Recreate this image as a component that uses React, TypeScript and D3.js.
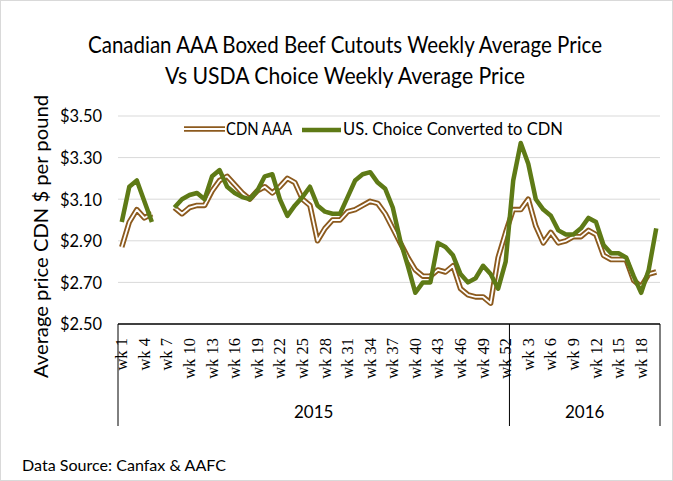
import React from "react";
import * as d3 from "d3";

const W = 673;
const H = 481;

const years = ["2015", "2016"];
const weeksPerYear = [52, 20];
const yTicks = [2.5, 2.7, 2.9, 3.1, 3.3, 3.5];

const cdnAAA: (number | null)[] = [
  2.87, 2.99, 3.05, 3.01, 3.03, null, null, 3.06, 3.03, 3.06,
  3.07, 3.07, 3.14, 3.19, 3.21, 3.17, 3.13, 3.10, 3.14, 3.16,
  3.13, 3.16, 3.20, 3.18, 3.10, 3.07, 2.90, 2.96, 3.00, 3.00,
  3.04, 3.05, 3.07, 3.09, 3.08, 3.03, 2.96, 2.89, 2.82, 2.76,
  2.73, 2.73, 2.76, 2.75, 2.78, 2.67, 2.64, 2.63, 2.63, 2.60,
  2.82, 2.94,
  3.05, 3.05, 3.10, 2.97, 2.89, 2.94, 2.89, 2.90, 2.92, 2.92,
  2.95, 2.93, 2.83, 2.81, 2.81, 2.81, 2.71, 2.68, 2.74, 2.75,
];

const usChoice: (number | null)[] = [
  2.99, 3.16, 3.19, 3.09, 2.99, null, null, 3.06, 3.10, 3.12,
  3.13, 3.10, 3.21, 3.24, 3.16, 3.13, 3.11, 3.10, 3.14, 3.21,
  3.22, 3.10, 3.02, 3.07, 3.11, 3.16, 3.07, 3.04, 3.03, 3.03,
  3.11, 3.19, 3.22, 3.23, 3.18, 3.15, 3.06, 2.90, 2.78, 2.65,
  2.70, 2.70, 2.89, 2.87, 2.83, 2.74, 2.70, 2.72, 2.78, 2.74,
  2.67, 2.80,
  3.19, 3.37, 3.27, 3.10, 3.05, 3.02, 2.95, 2.93, 2.93, 2.96,
  3.01, 2.99, 2.88, 2.84, 2.84, 2.82, 2.73, 2.65, 2.76, 2.96,
];

const categories: { year: string; label: string }[] = [];
years.forEach((yr, yi) => {
  for (let w = 1; w <= weeksPerYear[yi]; w++) categories.push({ year: yr, label: `wk ${w}` });
});

const BROWN = "#8C5A1E";
const GREEN = "#5E7A16";
const sans = "Lato, 'Open Sans', sans-serif";

export default function App() {
  const left = 118, right = 660, top = 116, bottom = 324;
  const x = d3.scaleBand<number>().domain(d3.range(categories.length)).range([left, right]).paddingInner(0).paddingOuter(0);
  const bw = x.bandwidth();
  const cx = (i: number) => (x(i) as number) + bw / 2;
  const y = d3.scaleLinear().domain([2.5, 3.5]).range([bottom, top]);

  const line = d3.line<number | null>()
    .defined((d) => d != null)
    .x((_, i) => cx(i))
    .y((d) => y(d as number));

  // group boundaries
  const bounds: number[] = [left];
  let acc = 0;
  weeksPerYear.forEach((n) => { acc += n; bounds.push(x(acc - 1)! + bw); });

  return (
    <div style={{ position: "absolute", left: 0, top: 0 }}>
      <svg width={W} height={H} style={{ display: "block", background: "#fff" }}>
        <rect x={0.5} y={0.5} width={W - 1} height={H - 1} fill="#fff" stroke="#d9d9d9" />
        <text x={345} y={53} textAnchor="middle" fontFamily={sans} fontSize={24} textLength={514} lengthAdjust="spacingAndGlyphs" fill="#000">
          Canadian AAA Boxed Beef Cutouts Weekly Average Price
        </text>
        <text x={345} y={84} textAnchor="middle" fontFamily={sans} fontSize={24} textLength={360} lengthAdjust="spacingAndGlyphs" fill="#000">
          Vs USDA Choice Weekly Average Price
        </text>

        {yTicks.filter((t) => t > 2.5).map((t) => (
          <line key={t} x1={left} x2={right} y1={y(t)} y2={y(t)} stroke="#d9d9d9" strokeWidth={1} />
        ))}
        {yTicks.map((t) => (
          <text key={"l" + t} x={102} y={y(t)} dy="0.35em" textAnchor="end" fontFamily={sans} fontSize={18} textLength={42} lengthAdjust="spacingAndGlyphs" fill="#000">
            {d3.format("$.2f")(t)}
          </text>
        ))}

        <text transform={`translate(48,${(95 + 378) / 2}) rotate(-90)`} textAnchor="middle" fontFamily={sans} fontSize={19} textLength={283} lengthAdjust="spacingAndGlyphs" fill="#000">
          Average price CDN $ per pound
        </text>

        <path d={line(cdnAAA) || ""} fill="none" stroke={BROWN} strokeWidth={5.5} strokeLinejoin="round" />
        <path d={line(cdnAAA) || ""} fill="none" stroke="#fff" strokeWidth={1.8} strokeLinejoin="round" />
        <path d={line(usChoice) || ""} fill="none" stroke={GREEN} strokeWidth={4.5} strokeLinejoin="round" />

        <line x1={left} x2={right} y1={bottom} y2={bottom} stroke="#000" strokeWidth={1.5} />
        {bounds.map((b, i) => (
          <line key={"b" + i} x1={b} x2={b} y1={bottom} y2={426} stroke="#000" strokeWidth={1} />
        ))}

        {categories.map((c, i) =>
          i % 3 === 0 ? (
            <text key={"c" + i} transform={`translate(${cx(i) + 5.5},338) rotate(-90)`} textAnchor="end" fontFamily="'Liberation Serif', serif" fontSize={16.5} fill="#000">
              {c.label}
            </text>
          ) : null
        )}

        {years.map((yr, yi) => (
          <text key={yr} x={(bounds[yi] + bounds[yi + 1]) / 2 + 0} y={418} textAnchor="middle" fontFamily={sans} fontSize={17} fill="#000">
            {yr}
          </text>
        ))}

        {/* legend */}
        <line x1={184} x2={225} y1={129} y2={129} stroke={BROWN} strokeWidth={5.5} />
        <line x1={184} x2={225} y1={129} y2={129} stroke="#fff" strokeWidth={1.8} />
        <text x={226} y={129} dy="0.35em" fontFamily={sans} fontSize={18} textLength={66} lengthAdjust="spacingAndGlyphs" fill="#000">CDN AAA</text>
        <line x1={302} x2={341} y1={130} y2={130} stroke={GREEN} strokeWidth={4.5} />
        <text x={343} y={129} dy="0.35em" fontFamily={sans} fontSize={18} textLength={220} lengthAdjust="spacingAndGlyphs" fill="#000">US. Choice Converted to CDN</text>

        <text x={22} y={471} fontFamily={sans} fontSize={16} textLength={204} lengthAdjust="spacingAndGlyphs" fill="#000">Data Source: Canfax &amp; AAFC</text>
      </svg>
    </div>
  );
}
